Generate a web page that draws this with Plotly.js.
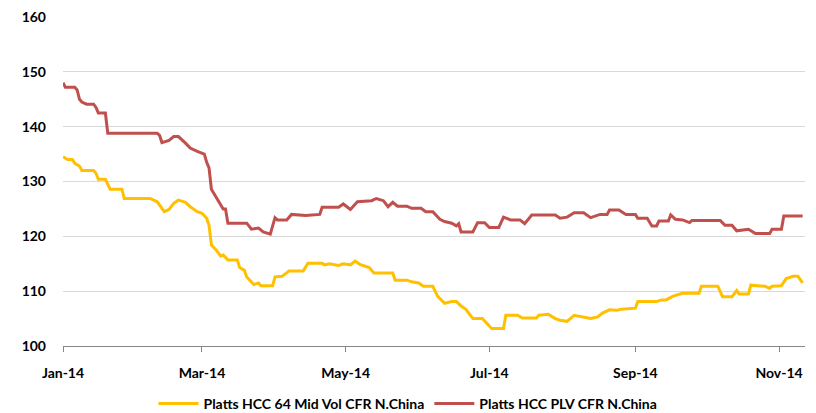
<!DOCTYPE html>
<html>
<head>
<meta charset="utf-8">
<script src="https://cdn.plot.ly/plotly-3.0.1.min.js"></script>
<style>html,body{margin:0;padding:0;background:#fff;}#chart{width:816px;height:413px;}</style>
</head>
<body>
<div id="chart"></div>
<script>
var midVolDates = ["2014-01-01","2014-01-03","2014-01-05","2014-01-06","2014-01-08","2014-01-09","2014-01-14","2014-01-15","2014-01-16","2014-01-19","2014-01-21","2014-01-26","2014-01-27","2014-02-07","2014-02-10","2014-02-13","2014-02-15","2014-02-17","2014-02-19","2014-02-22","2014-02-24","2014-02-27","2014-03-01","2014-03-03","2014-03-04","2014-03-05","2014-03-07","2014-03-09","2014-03-10","2014-03-12","2014-03-16","2014-03-17","2014-03-19","2014-03-20","2014-03-23","2014-03-25","2014-03-26","2014-03-31","2014-04-01","2014-04-04","2014-04-07","2014-04-13","2014-04-15","2014-04-21","2014-04-22","2014-04-24","2014-04-28","2014-04-30","2014-05-03","2014-05-05","2014-05-07","2014-05-11","2014-05-13","2014-05-21","2014-05-22","2014-05-27","2014-05-29","2014-06-01","2014-06-03","2014-06-07","2014-06-09","2014-06-12","2014-06-15","2014-06-17","2014-06-19","2014-06-21","2014-06-24","2014-06-28","2014-06-30","2014-07-02","2014-07-07","2014-07-08","2014-07-13","2014-07-15","2014-07-21","2014-07-22","2014-07-26","2014-07-29","2014-07-31","2014-08-03","2014-08-06","2014-08-10","2014-08-13","2014-08-16","2014-08-18","2014-08-21","2014-08-24","2014-08-26","2014-09-01","2014-09-02","2014-09-10","2014-09-12","2014-09-14","2014-09-17","2014-09-21","2014-09-28","2014-09-29","2014-10-06","2014-10-08","2014-10-12","2014-10-14","2014-10-15","2014-10-19","2014-10-20","2014-10-26","2014-10-28","2014-10-29","2014-11-02","2014-11-04","2014-11-07","2014-11-09","2014-11-11"];
var midVolValues = [134.5,134.0,134.0,133.3,132.8,132.0,132.0,131.5,130.4,130.4,128.6,128.6,126.9,126.9,126.3,124.5,124.9,126.0,126.6,126.2,125.4,124.5,124.2,123.3,122.0,118.4,117.5,116.4,116.6,115.7,115.7,114.3,113.8,112.6,111.2,111.5,111.0,111.0,112.6,112.7,113.7,113.7,115.1,115.1,114.8,115.0,114.7,115.0,114.8,115.5,114.9,114.3,113.3,113.3,112.0,112.0,111.7,111.5,110.9,110.9,109.1,107.8,108.1,108.1,107.3,106.7,105.0,105.0,104.1,103.2,103.2,105.6,105.6,105.1,105.1,105.6,105.8,105.0,104.7,104.5,105.6,105.3,105.0,105.3,106.0,106.6,106.5,106.7,106.9,108.1,108.1,108.4,108.4,109.1,109.6,109.6,110.9,110.9,109.0,109.0,110.1,109.5,109.5,111.1,110.9,110.5,110.9,111.0,112.3,112.7,112.7,111.5];

var plvDates = ["2014-01-01","2014-01-02","2014-01-06","2014-01-07","2014-01-08","2014-01-09","2014-01-11","2014-01-14","2014-01-15","2014-01-16","2014-01-19","2014-01-20","2014-02-10","2014-02-11","2014-02-12","2014-02-15","2014-02-17","2014-02-19","2014-02-22","2014-02-24","2014-02-27","2014-03-02","2014-03-03","2014-03-04","2014-03-05","2014-03-08","2014-03-10","2014-03-11","2014-03-12","2014-03-20","2014-03-22","2014-03-25","2014-03-27","2014-03-30","2014-04-01","2014-04-02","2014-04-06","2014-04-08","2014-04-14","2014-04-20","2014-04-21","2014-04-28","2014-04-30","2014-05-03","2014-05-06","2014-05-12","2014-05-14","2014-05-17","2014-05-19","2014-05-21","2014-05-23","2014-05-27","2014-05-29","2014-06-02","2014-06-04","2014-06-07","2014-06-10","2014-06-12","2014-06-15","2014-06-17","2014-06-18","2014-06-19","2014-06-24","2014-06-26","2014-06-29","2014-07-01","2014-07-05","2014-07-07","2014-07-10","2014-07-14","2014-07-16","2014-07-19","2014-07-29","2014-07-31","2014-08-03","2014-08-06","2014-08-10","2014-08-13","2014-08-17","2014-08-20","2014-08-21","2014-08-25","2014-08-28","2014-09-01","2014-09-02","2014-09-06","2014-09-08","2014-09-10","2014-09-11","2014-09-15","2014-09-16","2014-09-18","2014-09-21","2014-09-24","2014-09-25","2014-10-07","2014-10-09","2014-10-12","2014-10-14","2014-10-19","2014-10-22","2014-10-28","2014-10-29","2014-11-02","2014-11-03","2014-11-11"];
var plvValues = [148.0,147.2,147.2,146.7,145.0,144.5,144.1,144.1,143.5,142.5,142.5,138.8,138.8,138.4,137.1,137.5,138.2,138.2,137.0,136.1,135.5,135.0,133.5,132.5,128.6,126.3,125.0,125.0,122.4,122.4,121.3,121.5,120.8,120.4,123.4,123.0,123.0,124.0,123.8,124.0,125.3,125.3,125.9,124.9,126.3,126.5,126.9,126.5,125.4,126.2,125.5,125.5,125.1,125.1,124.5,124.5,123.1,122.7,122.4,121.9,122.3,120.8,120.8,122.5,122.5,121.6,121.6,123.5,123.0,123.0,122.3,123.9,123.9,123.3,123.5,124.3,124.3,123.4,124.0,124.0,124.8,124.8,124.0,124.0,123.3,123.3,121.9,121.9,122.8,122.8,123.9,123.1,123.0,122.5,122.9,122.9,122.0,122.0,121.0,121.3,120.5,120.5,121.3,121.3,123.7,123.7];

var seriesNames = ["Platts HCC 64 Mid Vol CFR N.China", "Platts HCC PLV CFR N.China"];
var xTickVals = ["2014-01-01","2014-03-01","2014-05-01","2014-07-01","2014-09-01","2014-11-01"];
var xTickText = ["Jan-14","Mar-14","May-14","Jul-14","Sep-14","Nov-14"];
var yTickVals = [100,110,120,130,140,150,160];

var fam = "Lato, 'Open Sans', sans-serif";
var boldFont = {family: fam, size: 14, color: "#000", weight: "bold"};

var traces = [
  {x: midVolDates, y: midVolValues, name: seriesNames[0], type: "scatter", mode: "lines",
   line: {color: "#FFC000", width: 3}},
  {x: plvDates, y: plvValues, name: seriesNames[1], type: "scatter", mode: "lines",
   line: {color: "#C0504D", width: 3}}
];

var layout = {
  width: 816, height: 413,
  margin: {l: 63, r: 11, t: 17, b: 67, autoexpand: false},
  paper_bgcolor: "#fff", plot_bgcolor: "#fff",
  font: {family: fam, size: 14, color: "#000"},
  showlegend: true,
  legend: {orientation: "h", x: 0.5, xanchor: "center", xref: "container",
           y: 0.022, yanchor: "middle", yref: "container",
           font: boldFont, itemwidth: 40, tracegroupgap: 0},
  xaxis: {
    type: "date", range: ["2014-01-01", "2014-11-12"],
    tickvals: xTickVals, ticktext: xTickText,
    tickfont: boldFont,
    ticks: "outside", ticklen: 5, tickcolor: "#868686", tickwidth: 1,
    showline: true, linecolor: "#868686", linewidth: 1,
    showgrid: false, zeroline: false, ticklabelstandoff: 9, fixedrange: true
  },
  yaxis: {
    range: [100, 160], tickvals: yTickVals,
    tickfont: boldFont,
    showgrid: true, gridcolor: "#d9d9d9", gridwidth: 1,
    showline: false, zeroline: false, ticks: "", ticklabelstandoff: 16, fixedrange: true
  }
};

Plotly.newPlot("chart", traces, layout, {staticPlot: true, displayModeBar: false});
</script>
</body>
</html>
